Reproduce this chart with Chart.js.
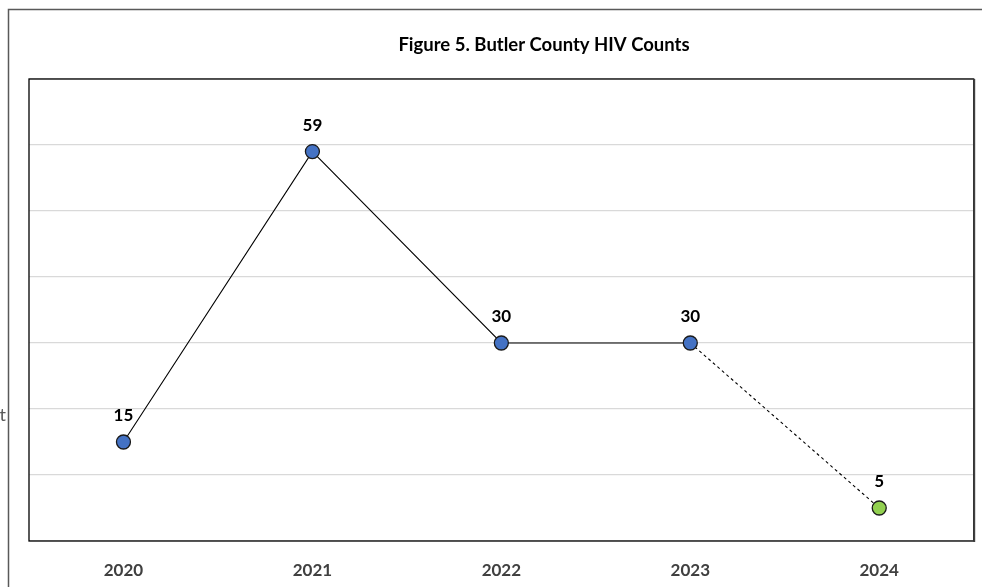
<!DOCTYPE html>
<html>
<head>
<meta charset="utf-8">
<script src="https://cdn.jsdelivr.net/npm/chart.js@4"></script>
<style>
  html, body { margin: 0; padding: 0; background: #fff; }
  #wrap { width: 982px; height: 587px; position: relative; }
</style>
</head>
<body>
<div id="wrap"><canvas id="hiv-counts"></canvas></div>
<script>
const years = ['2020', '2021', '2022', '2023', '2024']
const counts = [15, 59, 30, 30, 5]
const pointColors = ['#4472C4', '#4472C4', '#4472C4', '#4472C4', '#92D050']
const yTicks = [0, 10, 20, 30, 40, 50, 60, 70]
const chartTitle = 'Figure 5. Butler County HIV Counts'

const FONT = "Lato, 'Open Sans', sans-serif"

// frame, title, data labels and the clipped axis title
const decorations = {
  id: 'decorations',
  beforeDraw(chart) {
    const { ctx } = chart
    ctx.save()
    ctx.fillStyle = '#fff'
    ctx.fillRect(0, 0, chart.width, chart.height)
    ctx.strokeStyle = '#595959'
    ctx.lineWidth = 1.5
    ctx.strokeRect(8.5, 9.5, chart.width + 20, chart.height + 20)
    ctx.fillStyle = '#595959'
    ctx.font = "18px " + FONT
    ctx.textAlign = 'right'
    ctx.textBaseline = 'middle'
    ctx.fillText('Count', 6, 415)
    ctx.fillStyle = '#000'
    ctx.font = "bold 18.5px " + FONT
    ctx.textAlign = 'center'
    ctx.fillText(chartTitle, 544, 45)
    ctx.restore()
  },
  afterDatasetsDraw(chart) {
    const { ctx, chartArea: a } = chart
    ctx.save()
    ctx.strokeStyle = '#000'
    ctx.lineWidth = 1.3
    ctx.strokeRect(a.left, a.top, a.right - a.left, a.bottom - a.top)
    ctx.strokeStyle = '#404040'
    ctx.lineWidth = 2
    ctx.beginPath()
    ctx.moveTo(a.right + 0.5, a.top)
    ctx.lineTo(a.right + 0.5, a.bottom + 1)
    ctx.stroke()
    const meta = chart.getDatasetMeta(0)
    ctx.fillStyle = '#000'
    ctx.font = "bold 17px " + FONT
    ctx.textAlign = 'center'
    ctx.textBaseline = 'middle'
    meta.data.forEach((pt, i) => {
      ctx.fillText(String(counts[i]), pt.x, pt.y - 26)
    })
    ctx.restore()
  },
}

new Chart(document.getElementById('hiv-counts'), {
  type: 'line',
  data: {
    labels: years,
    datasets: [
      {
        data: counts,
        borderColor: '#000',
        borderWidth: 1.1,
        tension: 0,
        pointRadius: 7,
        pointHoverRadius: 7,
        pointBorderWidth: 1.3,
        pointBorderColor: '#1a1a1a',
        pointBackgroundColor: pointColors,
        segment: {
          borderDash: (c) => (c.p1DataIndex === counts.length - 1 ? [3, 3] : undefined),
        },
      },
    ],
  },
  options: {
    responsive: true,
    maintainAspectRatio: false,
    animation: false,
    layout: { padding: { left: 29, right: 6, top: 79, bottom: 0 } },
    plugins: {
      legend: { display: false },
      title: { display: false },
      tooltip: { enabled: false },
    },
    scales: {
      x: {
        offset: true,
        grid: { display: false, drawTicks: false },
        border: { display: false },
        ticks: {
          padding: 19,
          color: '#404040',
          font: { family: FONT, size: 17, weight: 'bold' },
        },
        afterFit: (axis) => { axis.height = 46 },
      },
      y: {
        min: yTicks[0],
        max: yTicks[yTicks.length - 1],
        afterBuildTicks: (axis) => {
          axis.ticks = yTicks.map((v) => ({ value: v }))
        },
        grid: { color: '#d9d9d9', lineWidth: 1.3, drawTicks: false },
        border: { display: false },
        ticks: { display: false },
        afterFit: (axis) => { axis.width = 0 },
      },
    },
  },
  plugins: [decorations],
})
</script>
</body>
</html>
